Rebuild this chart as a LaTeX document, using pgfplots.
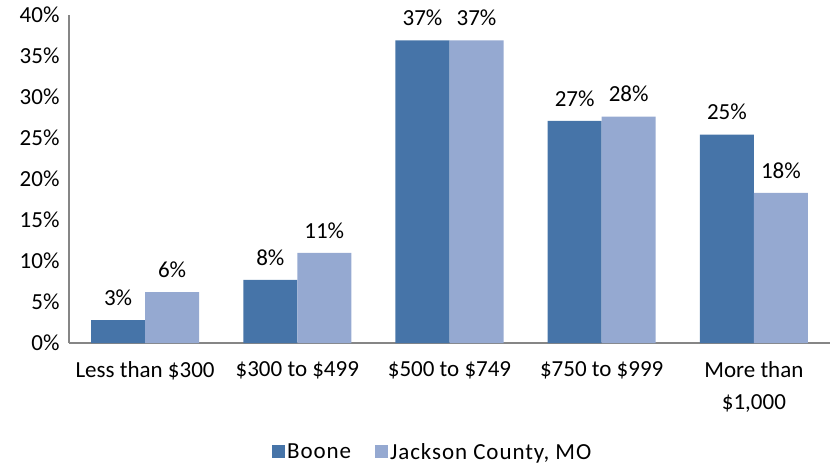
\documentclass[border=0pt]{standalone}
\usepackage{pgfplots}
\pgfplotsset{compat=1.18}
\usepackage{fontspec}
\setmainfont{Carlito}
\newfontfamily\legfont[LetterSpace=4]{Carlito}
\definecolor{boone}{HTML}{4674A8}
\definecolor{jackson}{HTML}{95A9D1}
\definecolor{axisgray}{HTML}{868686}
\begin{document}
\begin{tikzpicture}[x=1pt,y=1pt]
\useasboundingbox (-69,-123) rectangle (761,343);
\begin{axis}[
  at={(0,0)}, anchor=south west,
  scale only axis, width=761pt, height=328pt,
  ybar=0pt, bar width=54pt,
  xmin=-0.5, xmax=4.5, ymin=0, ymax=40,
  xtick={0,1,2,3,4},
  xticklabels={{Less than \$300}, {\$300 to \$499}, {\$500 to \$749}, {\$750 to \$999}, {More than\\\$1,000}},
  xticklabel style={align=center, font=\fontsize{23}{32}\selectfont, yshift=-15pt},
  ytick={0,5,...,40},
  yticklabel={\pgfmathprintnumber{\tick}\%},
  yticklabel style={font=\fontsize{23}{26}\selectfont, xshift=-6pt},
  /pgf/number format/assume math mode=true,
  major tick length=0pt,
  axis x line*=bottom, axis y line*=left,
  axis line style={axisgray, line width=1.6pt},
  separate axis lines,
  x axis line style={-}, y axis line style={-},
  enlargelimits=false,
  nodes near coords={\pgfmathprintnumber[fixed,precision=0]{\pgfplotspointmeta}\%},
  every node near coord/.append style={font=\fontsize{23}{26}\selectfont, yshift=11pt},
  legend style={at={(0.478,-0.333)}, anchor=center, draw=none, legend columns=2,
    inner sep=0pt,
    font=\legfont\fontsize{23}{26}\selectfont, /tikz/every even column/.append style={column sep=22pt},
    /tikz/every odd column/.append style={column sep=0pt}},
  legend image code/.code={\fill[#1] (-4pt,-6pt) rectangle (9pt,7pt);},
  clip=false,
]
\addplot[fill=boone, draw=none] coordinates {(0,2.8) (1,7.7) (2,36.9) (3,27.1) (4,25.4)};
\addplot[fill=jackson, draw=none] coordinates {(0,6.2) (1,11.0) (2,36.9) (3,27.6) (4,18.3)};
\legend{Boone, {Jackson County, MO}}
\end{axis}
\end{tikzpicture}
\end{document}
